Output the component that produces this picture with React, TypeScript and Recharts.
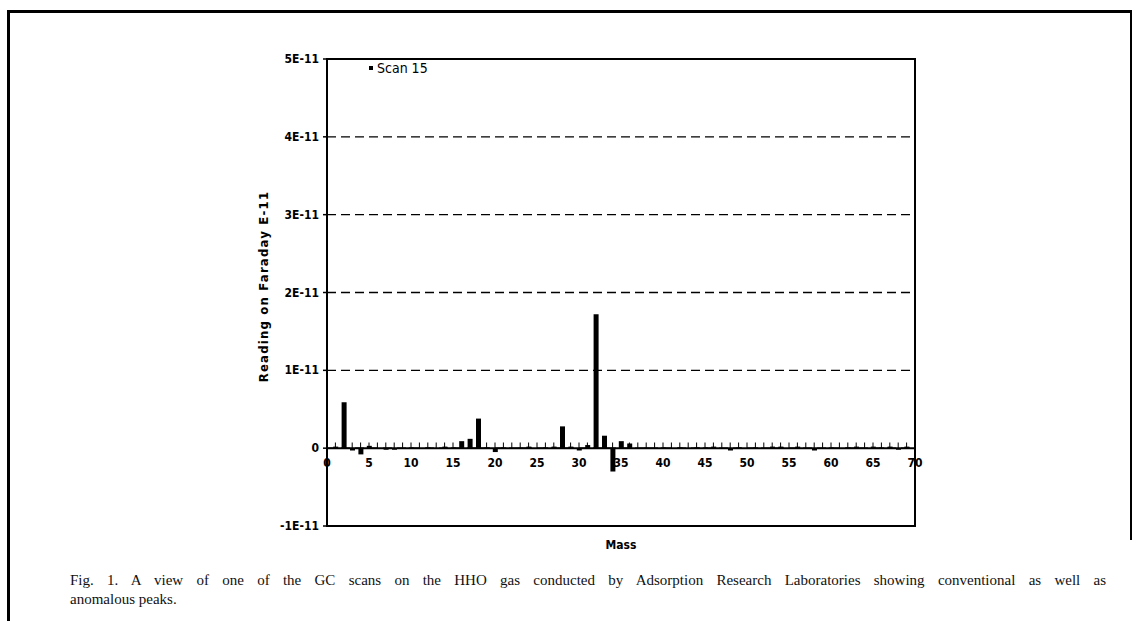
import React from "react";
import { BarChart, Bar, XAxis, YAxis, CartesianGrid, ReferenceLine, ReferenceArea, Legend } from "recharts";

// mass numbers 0..70
const masses = [
  0, 1, 2, 3, 4, 5, 6, 7, 8, 9, 10, 11, 12, 13, 14, 15, 16, 17, 18, 19, 20,
  21, 22, 23, 24, 25, 26, 27, 28, 29, 30, 31, 32, 33, 34, 35, 36, 37, 38, 39, 40,
  41, 42, 43, 44, 45, 46, 47, 48, 49, 50, 51, 52, 53, 54, 55, 56, 57, 58, 59, 60,
  61, 62, 63, 64, 65, 66, 67, 68, 69, 70,
];

// reading on faraday, in units of E-11
const scan15 = [
  0, 0.02, 0.59, -0.03, -0.08, 0.03, -0.01, -0.02, -0.02, -0.01, 0.01,
  -0.01, 0.01, -0.01, 0.02, 0.01, 0.09, 0.12, 0.38, 0.01, -0.05,
  0.01, -0.01, 0.01, 0.02, -0.01, 0.01, 0.02, 0.28, 0.02, -0.03,
  0.04, 1.72, 0.16, -0.3, 0.09, 0.06, -0.01, 0.01, -0.01, 0.01,
  -0.01, 0.01, -0.01, 0.01, 0.01, 0.02, -0.01, -0.03, 0.01, -0.01,
  0.01, -0.01, 0.02, 0.02, -0.01, 0.02, -0.01, -0.03, -0.01, 0.01,
  -0.01, 0.01, 0.02, -0.01, 0.02, 0.01, 0.02, -0.02, 0.02, 0,
];

const yTicks = [-1, 0, 1, 2, 3, 4, 5];

const data = masses.map((m, i) => ({ mass: m, scan15: scan15[i] }));

const W = 1143;
const H = 621;
const TOP = 43;
const PLOT_H = 483;
const Y_MIN = -1;
const Y_MAX = 5;
const ZERO_Y = TOP + (PLOT_H * Y_MAX) / (Y_MAX - Y_MIN);

const axisFont = "'DejaVu Sans', sans-serif";
const narrow = { fontStretch: "condensed" as const };

function MassTick(props: any) {
  const { x, payload } = props;
  const v = payload.value;
  return (
    <g>
      <line x1={x} x2={x} y1={ZERO_Y - 3} y2={ZERO_Y + 3} stroke="#000" strokeWidth={1} />
      {v % 5 === 0 && (
        <text x={x} y={ZERO_Y + 21} textAnchor="middle" fontFamily={axisFont} fontWeight="bold" fontSize={12} fill="#000" style={narrow}>
          {v}
        </text>
      )}
    </g>
  );
}

function ReadingTick(props: any) {
  const { x, y, payload } = props;
  const v = payload.value;
  return (
    <text x={x - 2} y={y} dy={4} textAnchor="end" fontFamily={axisFont} fontWeight="bold" fontSize={12} fill="#000" style={narrow}>
      {v === 0 ? "0" : `${v}E-11`}
    </text>
  );
}

function LegendBox() {
  return (
    <div style={{ display: "flex", alignItems: "center", fontFamily: axisFont, fontSize: 14, color: "#000", ...narrow }}>
      <span style={{ display: "inline-block", width: 4, height: 4, background: "#000", marginRight: 4 }} />
      <span>Scan 15</span>
    </div>
  );
}

export default function App() {
  return (
    <div style={{ position: "absolute", left: 0, top: 0, width: W, height: H, background: "#fff" }}>
      {/* page frame */}
      <div style={{ position: "absolute", left: 7, top: 10, width: 3, height: H - 10, background: "#000" }} />
      <div style={{ position: "absolute", left: 7, top: 10, width: 1125, height: 3, background: "#000" }} />
      <div style={{ position: "absolute", left: 1130, top: 10, width: 2, height: 530, background: "#000" }} />

      <div style={{ position: "absolute", left: 0, top: 0 }}>
        <BarChart width={W} height={H} data={data} margin={{ top: TOP, right: 228, bottom: 87, left: 267 }}>
          <CartesianGrid vertical={false} stroke="#000" strokeWidth={1.4} strokeDasharray="9 5" />
          <ReferenceArea x1={0} x2={70} y1={-1} y2={5} fill="none" stroke="#000" strokeWidth={2} ifOverflow="visible" />
          <XAxis
            type="number"
            dataKey="mass"
            domain={[0, 70]}
            ticks={masses}
            interval={0}
            axisLine={false}
            tickLine={false}
            height={8}
            tick={<MassTick />}
            label={{
              content: ({ viewBox }: any) => (
                <text
                  x={viewBox.x + viewBox.width / 2}
                  y={viewBox.y + 23}
                  textAnchor="middle"
                  fontFamily={axisFont}
                  fontWeight="bold"
                  fontSize={12}
                  fill="#000"
                  style={narrow}
                >
                  Mass
                </text>
              ),
            }}
          />
          <YAxis
            type="number"
            domain={[Y_MIN, Y_MAX]}
            ticks={yTicks}
            interval={0}
            width={60}
            axisLine={{ stroke: "#000", strokeWidth: 2 }}
            tickLine={{ stroke: "#000", strokeWidth: 1.5 }}
            tickSize={4}
            tick={<ReadingTick />}
            label={{
              content: ({ viewBox }: any) => {
                const cx = viewBox.x - 4;
                const cy = viewBox.y + viewBox.height / 2 - 6;
                return (
                  <text
                    x={cx}
                    y={cy}
                    transform={`rotate(-90 ${cx} ${cy})`}
                    textAnchor="middle"
                    dominantBaseline="central"
                    fontFamily={axisFont}
                    fontWeight="bold"
                    fontSize={13}
                    letterSpacing={1.2}
                    fill="#000"
                    style={narrow}
                  >
                    Reading on Faraday E-11
                  </text>
                );
              },
            }}
          />
          <ReferenceLine y={0} stroke="#000" strokeWidth={2} />
          <Legend
            verticalAlign="top"
            align="left"
            content={() => <LegendBox />}
            wrapperStyle={{ left: 369, top: 60, width: "auto" }}
          />
          <Bar dataKey="scan15" fill="#000" barSize={5} isAnimationActive={false} />
        </BarChart>
      </div>

      {/* caption */}
      <div
        style={{
          position: "absolute",
          left: 70,
          top: 571,
          width: 1036,
          fontFamily: "'Liberation Serif', 'Times New Roman', serif",
          fontSize: 15,
          lineHeight: "19px",
          color: "#111",
        }}
      >
        <div style={{ textAlign: "justify", textAlignLast: "justify" }}>
          Fig. 1. A view of one of the GC scans on the HHO gas conducted by Adsorption Research Laboratories showing conventional as well as
        </div>
        <div>anomalous peaks.</div>
      </div>
    </div>
  );
}
